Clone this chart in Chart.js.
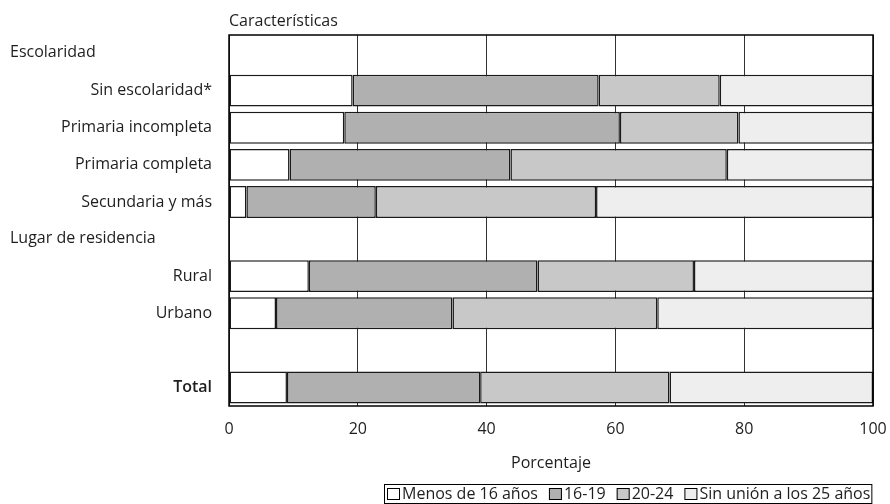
<!DOCTYPE html>
<html lang="es">
<head>
<meta charset="utf-8">
<title>Edad a la primera unión</title>
<script src="https://cdn.jsdelivr.net/npm/chart.js@4.4.1/dist/chart.umd.min.js"></script>
<style>
  html, body { margin: 0; padding: 0; background: #fff; }
  #wrap { width: 890px; height: 504px; }
</style>
</head>
<body>
<div id="wrap"><canvas id="chart" width="890" height="504"></canvas></div>
<script>
// Rows of the chart (group headers have no bar)
const categories = [
  "Escolaridad",
  "Sin escolaridad*",
  "Primaria incompleta",
  "Primaria completa",
  "Secundaria y más",
  "Lugar de residencia",
  "Rural",
  "Urbano",
  "",
  "Total",
];
const headerRows = ["Escolaridad", "Lugar de residencia"];

const seriesNames = ["Menos de 16 años", "16-19", "20-24", "Sin unión a los 25 años"];

// Percentages
const menos16 = [null, 19.2, 17.9, 9.4, 2.7, null, 12.4, 7.3, null, 9.0];
const de16a19 = [null, 38.2, 42.8, 34.3, 20.1, null, 35.5, 27.4, null, 30.0];
const de20a24 = [null, 18.8, 18.4, 33.6, 34.2, null, 24.3, 31.8, null, 29.4];
const sinUnion = [null, 23.8, 20.9, 22.7, 43.0, null, 27.8, 33.5, null, 31.6];

const xTicks = [0, 20, 40, 60, 80, 100];
const yAxisTitle = "Características";
const xAxisTitle = "Porcentaje";

const fillColors = ["#ffffff", "#b0b0b0", "#c8c8c8", "#eeeeee"];
const textColor = "#1e1e1e";
const fontFamily = "'Open Sans', sans-serif";

Chart.defaults.font.family = fontFamily;
Chart.defaults.font.size = 16;
Chart.defaults.color = textColor;

// Outer frame of the plot area
const framePlugin = {
  id: "frame",
  afterDatasetsDraw(chart) {
    const { ctx, chartArea: a } = chart;
    ctx.save();
    ctx.strokeStyle = "#000";
    ctx.lineWidth = 1.5;
    ctx.strokeRect(a.left, a.top, a.right - a.left, a.bottom - a.top);
    ctx.restore();
  },
};

// Group headers (left aligned) and the axis caption on top
const sideTextPlugin = {
  id: "sideText",
  afterDraw(chart) {
    const { ctx, chartArea } = chart;
    const yScale = chart.scales.y;
    ctx.save();
    ctx.font = "16px " + fontFamily;
    ctx.fillStyle = textColor;
    ctx.textBaseline = "middle";
    ctx.textAlign = "left";
    categories.forEach((c, i) => {
      if (headerRows.includes(c)) {
        ctx.fillText(c, 10, yScale.getPixelForValue(i) - 1);
      }
    });
    ctx.fillText(yAxisTitle, chartArea.left, chartArea.top - 14);
    ctx.restore();
  },
};

// Legend with a box around it, right aligned under the plot
const boxLegendPlugin = {
  id: "boxLegend",
  afterDraw(chart) {
    const { ctx, chartArea } = chart;
    const boxW = 13;
    const boxH = 12;
    const gap = 2;
    const spacing = 11;
    const pad = 2;
    ctx.save();
    ctx.font = "16px " + fontFamily;
    const items = chart.data.datasets.map((ds) => ({
      text: ds.label,
      color: ds.backgroundColor,
      w: ctx.measureText(ds.label).width,
    }));
    let total = pad * 2 + spacing * (items.length - 1);
    items.forEach((it) => (total += boxW + gap + it.w));
    const right = chartArea.right - 2;
    const left = Math.round(right - total);
    const top = chart.height - 20;
    const h = 19;
    ctx.strokeStyle = "#000";
    ctx.lineWidth = 1;
    ctx.strokeRect(left + 0.5, top + 0.5, total, h);

    const cy = top + h / 2 + 0.5;
    let x = left + pad + 1;
    ctx.textBaseline = "middle";
    ctx.textAlign = "left";
    items.forEach((it) => {
      ctx.fillStyle = it.color;
      ctx.fillRect(x, Math.round(cy - boxH / 2), boxW, boxH);
      ctx.strokeStyle = "#000";
      ctx.strokeRect(x + 0.5, Math.round(cy - boxH / 2) + 0.5, boxW - 1, boxH - 1);
      ctx.fillStyle = textColor;
      ctx.fillText(it.text, x + boxW + gap, cy);
      x += boxW + gap + it.w + spacing;
    });
    ctx.restore();
  },
};

const seriesData = [menos16, de16a19, de20a24, sinUnion];
const datasets = seriesNames.map((name, i) => ({
  label: name,
  data: seriesData[i],
  backgroundColor: fillColors[i],
  borderColor: "#1a1a1a",
  borderWidth: 1.5,
  borderSkipped: false,
  barPercentage: 0.86,
  categoryPercentage: 1,
}));

const ctx = document.getElementById("chart").getContext("2d");

new Chart(ctx, {
  type: "bar",
  data: {
    labels: categories,
    datasets: datasets,
  },
  options: {
    indexAxis: "y",
    responsive: false,
    animation: false,
    layout: {
      padding: { top: 35, right: 17, bottom: 26, left: 0 },
    },
    scales: {
      x: {
        stacked: true,
        min: 0,
        max: 100,
        afterBuildTicks: (scale) => {
          scale.ticks = xTicks.map((v) => ({ value: v }));
        },
        afterFit: (scale) => {
          scale.height = 72;
          // let the "100" label hang into the right margin
          scale.paddingLeft = 0;
          scale.paddingRight = 0;
        },
        ticks: {
          padding: 14,
          color: textColor,
          font: { size: 16 },
        },
        grid: {
          color: "#333",
          lineWidth: 1,
          drawTicks: false,
        },
        border: { display: false },
        title: {
          display: true,
          text: xAxisTitle,
          color: textColor,
          font: { size: 16 },
          padding: { top: 0, bottom: 5 },
        },
      },
      y: {
        stacked: true,
        afterFit: (scale) => {
          scale.width = 229;
        },
        ticks: {
          padding: 17,
          color: textColor,
          autoSkip: false,
          callback: function (value) {
            const label = this.getLabelForValue(value);
            return headerRows.includes(label) ? "" : label;
          },
          font: (c) =>
            c.tick && c.tick.label === "Total"
              ? { size: 16, weight: "600" }
              : { size: 16 },
        },
        grid: { display: false, drawTicks: false },
        border: { display: false },
      },
    },
    plugins: {
      legend: { display: false },
      tooltip: { enabled: false },
      title: { display: false },
    },
  },
  plugins: [framePlugin, sideTextPlugin, boxLegendPlugin],
});
</script>
</body>
</html>
